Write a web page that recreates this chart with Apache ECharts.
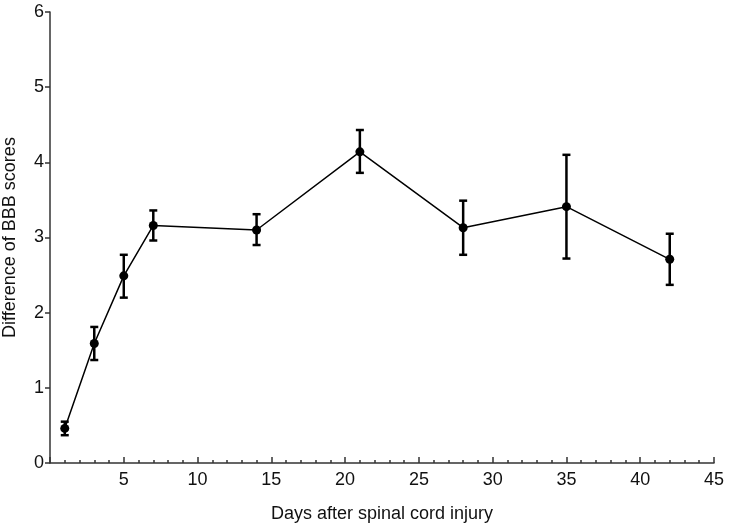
<!DOCTYPE html>
<html>
<head>
<meta charset="utf-8">
<script src="https://cdn.jsdelivr.net/npm/echarts@6/dist/echarts.min.js"></script>
<style>html,body{margin:0;padding:0;background:#fff;}#c{width:730px;height:526px;}</style>
</head>
<body>
<div id="c"></div>
<script>
const days = [1, 3, 5, 7, 14, 21, 28, 35, 42];
const means = [0.46, 1.59, 2.49, 3.16, 3.10, 4.14, 3.13, 3.41, 2.71];
const upper = [0.55, 1.81, 2.77, 3.36, 3.31, 4.43, 3.49, 4.10, 3.05];
const lower = [0.37, 1.37, 2.20, 2.96, 2.90, 3.86, 2.77, 2.72, 2.37];

const chart = echarts.init(document.getElementById('c'));
const font = 'Liberation Sans, Arial, sans-serif';
chart.setOption({
  animation: false,
  backgroundColor: '#fff',
  grid: { left: 50, right: 16, top: 12, bottom: 63, containLabel: false, outerBoundsMode: 'none' },
  xAxis: {
    type: 'value', min: 0, max: 45, interval: 5,
    name: 'Days after spinal cord injury', nameLocation: 'middle', nameGap: 42,
    nameTextStyle: { fontFamily: font, fontSize: 18, color: '#111' },
    axisLine: { lineStyle: { color: '#333', width: 1.5 } },
    axisTick: { inside: true, length: 6, lineStyle: { color: '#333', width: 1.5 } },
    minorTick: { show: true, splitNumber: 5, length: 3, lineStyle: { color: '#333', width: 1.5 } },
    axisLabel: { fontFamily: font, fontSize: 18, color: '#111', margin: 8,
      formatter: v => v === 0 ? '' : String(v) },
    splitLine: { show: false }
  },
  yAxis: {
    type: 'value', min: 0, max: 6, interval: 1,
    name: 'Difference of BBB scores', nameLocation: 'middle', nameGap: 31,
    nameTextStyle: { fontFamily: font, fontSize: 18, color: '#111' },
    axisLine: { show: true, lineStyle: { color: '#333', width: 1.5 } },
    axisTick: { show: true, inside: false, length: 5, lineStyle: { color: '#333', width: 1.5 } },
    axisLabel: { fontFamily: font, fontSize: 18, color: '#111', margin: 6 },
    splitLine: { show: false }
  },
  series: [
    {
      type: 'line',
      data: days.map((d, i) => [d, means[i]]),
      symbol: 'circle', symbolSize: 9,
      itemStyle: { color: '#000' },
      lineStyle: { color: '#000', width: 1.5 },
      z: 3
    },
    {
      type: 'custom',
      data: days.map((d, i) => [d, lower[i], upper[i]]),
      renderItem: function (params, api) {
        const x = api.value(0);
        const lo = api.coord([x, api.value(1)]);
        const hi = api.coord([x, api.value(2)]);
        const hw = 4;
        const style = { stroke: '#000', lineWidth: 2.5, fill: null };
        return {
          type: 'group',
          children: [
            { type: 'line', shape: { x1: lo[0], y1: lo[1], x2: hi[0], y2: hi[1] }, style: style },
            { type: 'line', shape: { x1: hi[0] - hw, y1: hi[1], x2: hi[0] + hw, y2: hi[1] }, style: style },
            { type: 'line', shape: { x1: lo[0] - hw, y1: lo[1], x2: lo[0] + hw, y2: lo[1] }, style: style }
          ]
        };
      },
      z: 2
    }
  ]
});
</script>
</body>
</html>
